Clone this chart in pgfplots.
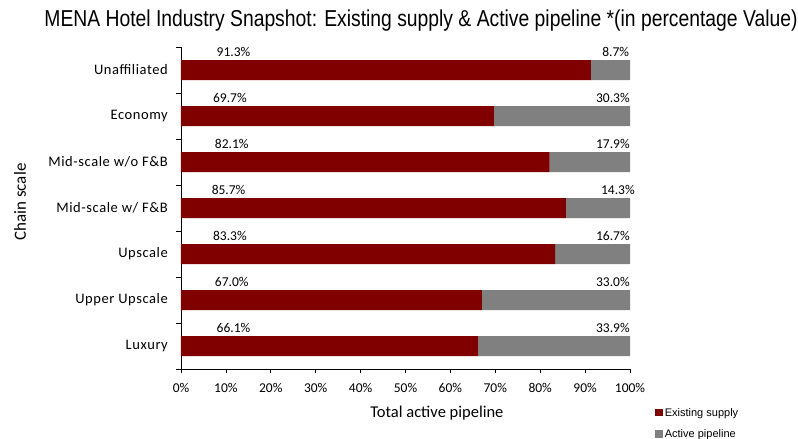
\documentclass[border=0pt]{standalone}
\usepackage{pgfplots}
\pgfplotsset{compat=1.18}
\usepackage{pgfplotstable}
\usepackage{fontspec}
\setmainfont{Carlito}
\newfontfamily\titlefont[FakeStretch=0.84]{Liberation Sans}
\newfontfamily\legfont{Liberation Sans}
\newfontfamily\catfont[LetterSpace=4]{Carlito}
\definecolor{exred}{RGB}{128,0,0}
\definecolor{pipegray}{RGB}{128,128,128}

\pgfplotstableread{
idx exist pipe lx rx ly
0 66.1 33.9 11.7 96.2 0.39
1 67.0 33.0 11.3 96.2 0.39
2 83.3 16.7 10.9 96.2 0.39
3 85.7 14.3 10.6 97.3 0.39
4 82.1 17.9 11.3 96.2 0.39
5 69.7 30.3 10.9 96.2 0.39
6 91.3 8.7 11.7 96.8 0.39
}\datatable

\begin{document}
\begin{tikzpicture}
\path[use as bounding box] (-181pt,-70pt) rectangle (617pt,369pt);
\begin{axis}[
  scale only axis,
  width=449pt, height=322pt,
  xbar stacked,
  bar width=20pt,
  xmin=0, xmax=100,
  ymin=-0.5, ymax=6.5,
  axis lines*=left,
  axis line style={black, line width=0.6pt},
  xtick={0,10,...,100},
  xticklabel={\pgfmathprintnumber{\tick}\%},
  xticklabel style={font=\fontsize{13.5}{13.5}\selectfont, inner sep=0pt, yshift=-10pt},
  ytick={0,...,6},
  yticklabels={Luxury,Upper Upscale,Upscale,Mid-scale w/ F\&B,Mid-scale w/o F\&B,Economy,Unaffiliated},
  yticklabel style={font=\catfont\fontsize{14.5}{14.5}\selectfont, inner sep=0pt, xshift=-9pt},
  minor ytick={-0.5,0.5,...,6.5},
  tick align=outside,
  major tick length=4pt,
  minor tick length=5pt,
  tick style={black, line width=0.6pt},
  every major y tick/.append style={draw=none},
  /pgf/number format/assume math mode=true,
  title={MENA Hotel Industry Snapshot: Existing supply \& Active pipeline *(in percentage Value)},
  title style={font=\titlefont\fontsize{23}{23}\selectfont, at={(axis description cs:0.5345,1.062)}, anchor=center, inner sep=0pt},
  xlabel={Total active pipeline},
  xlabel style={font=\fontsize{16.5}{16.5}\selectfont, at={(axis description cs:0.570,-0.1375)}, anchor=center, inner sep=0pt},
  ylabel={Chain scale},
  ylabel style={font=\fontsize{17}{17}\selectfont, at={(axis description cs:-0.3586,0.5186)}, anchor=center, rotate=0, inner sep=0pt},
  legend style={draw=none, fill=none, at={(axis description cs:1.056,-0.115)}, anchor=north west, font=\legfont\fontsize{11}{11}\selectfont, legend cell align=left, row sep=8pt, inner sep=0pt},
  legend image code/.code={\fill[#1] (0pt,-3.5pt) rectangle (7.5pt,4pt);},
  clip=false,
]
\addplot[fill=exred, draw=none] table[x=exist, y=idx] {\datatable};
\addlegendentry{Existing supply}
\addplot[fill=pipegray, draw=none] table[x=pipe, y=idx] {\datatable};
\addlegendentry{Active pipeline}
\end{axis}
\begin{axis}[
  scale only axis,
  width=449pt, height=322pt,
  xmin=0, xmax=100,
  ymin=-0.5, ymax=6.5,
  hide axis,
  clip=false,
  /pgf/number format/assume math mode=true,
  nodes near coords={\pgfmathprintnumber[fixed,fixed zerofill,precision=1,assume math mode=true]{\pgfplotspointmeta}\%},
  every node near coord/.append style={anchor=center, font=\fontsize{13.5}{13.5}\selectfont, inner sep=0pt, text=black},
]
\addplot[only marks, mark=none, point meta=explicit] table[x=lx, y expr=\thisrow{idx}+\thisrow{ly}, meta=exist] {\datatable};
\addplot[only marks, mark=none, point meta=explicit] table[x=rx, y expr=\thisrow{idx}+\thisrow{ly}, meta=pipe] {\datatable};
\end{axis}
\end{tikzpicture}
\end{document}
